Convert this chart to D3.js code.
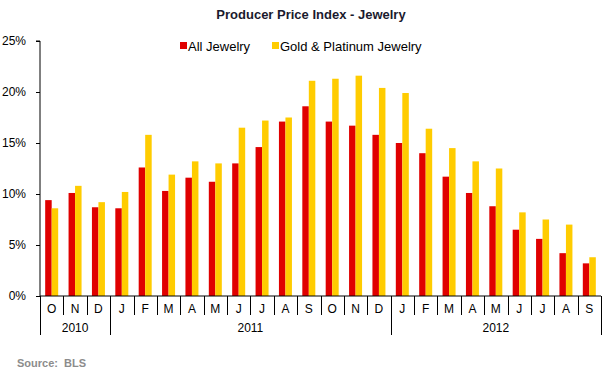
<!DOCTYPE html>
<html>
<head>
<meta charset="utf-8">
<script src="https://d3js.org/d3.v7.min.js"></script>
<style>
  body { margin: 0; background: #fff; }
  svg text { font-family: "Liberation Sans", Arial, sans-serif; }
</style>
</head>
<body>
<div id="chart"></div>
<script>
// months Oct 2010 .. Sep 2012
const months = ["O","N","D","J","F","M","A","M","J","J","A","S","O","N","D","J","F","M","A","M","J","J","A","S"];
const years = [
  { label: "2010", start: 0, end: 3 },
  { label: "2011", start: 3, end: 15 },
  { label: "2012", start: 15, end: 24 }
];
const allJewelry = [9.4, 10.1, 8.7, 8.6, 12.6, 10.3, 11.6, 11.2, 13.0, 14.6, 17.1, 18.6, 17.1, 16.7, 15.8, 15.0, 14.0, 11.7, 10.1, 8.8, 6.5, 5.6, 4.2, 3.2];
const goldPlatinum = [8.6, 10.8, 9.2, 10.2, 15.8, 11.9, 13.2, 13.0, 16.5, 17.2, 17.5, 21.1, 21.3, 21.6, 20.4, 19.9, 16.4, 14.5, 13.2, 12.5, 8.2, 7.5, 7.0, 3.8];
const yTicks = [0, 5, 10, 15, 20, 25];
const seriesNames = ["All Jewelry", "Gold & Platinum Jewelry"];
const colors = ["#E00000", "#FFCC00"];

const width = 609, height = 371;
const plotL = 40, plotR = 601, plotT = 41, plotB = 296;

const svg = d3.select("#chart").append("svg")
  .attr("width", width).attr("height", height);

const x = d3.scaleBand().domain(d3.range(months.length)).range([plotL, plotR]);
const y = d3.scaleLinear().domain([0, 25]).range([plotB, plotT]);
const barW = 6.5;

// title
svg.append("text")
  .attr("x", 311).attr("y", 19)
  .attr("text-anchor", "middle")
  .attr("font-size", 13).attr("font-weight", "bold")
  .attr("fill", "#1a1a2e")
  .text("Producer Price Index - Jewelry");

// bars
[allJewelry, goldPlatinum].forEach((vals, s) => {
  svg.append("g").selectAll("rect")
    .data(vals)
    .enter()
    .append("rect")
    .attr("x", (d, i) => x(i) + x.bandwidth() / 2 - barW + s * barW)
    .attr("y", d => y(d))
    .attr("width", barW)
    .attr("height", d => y(0) - y(d))
    .attr("fill", colors[s]);
});

// y axis
const yAxis = svg.append("g")
  .attr("transform", `translate(${plotL},0)`)
  .call(d3.axisLeft(y).tickValues(yTicks).tickSize(4).tickPadding(10).tickFormat(d => d + "%"));
yAxis.select(".domain").attr("d", `M-4,${plotT}H0V${plotB}`).attr("stroke", "#000");
yAxis.selectAll(".tick line").attr("stroke", "#000");
yAxis.selectAll("text").attr("font-size", 12).attr("fill", "#000")
  .style("font-family", "'Liberation Sans', Arial, sans-serif");

// x axis baseline
svg.append("line")
  .attr("x1", plotL).attr("x2", plotR)
  .attr("y1", plotB).attr("y2", plotB)
  .attr("stroke", "#000");

// month dividers
svg.append("g").selectAll("line")
  .data(d3.range(months.length + 1))
  .enter().append("line")
  .attr("x1", i => Math.round(plotL + i * x.step()) + 0.5)
  .attr("x2", i => Math.round(plotL + i * x.step()) + 0.5)
  .attr("y1", plotB)
  .attr("y2", i => (years.some(yr => yr.start === i) || i === months.length) ? 335 : 315)
  .attr("stroke", "#000");

// month labels
svg.append("g").selectAll("text")
  .data(months)
  .enter().append("text")
  .attr("x", (d, i) => x(i) + x.bandwidth() / 2)
  .attr("y", 313)
  .attr("text-anchor", "middle")
  .attr("font-size", 12)
  .attr("fill", "#000")
  .text(d => d);

// year labels
svg.append("g").selectAll("text")
  .data(years)
  .enter().append("text")
  .attr("x", d => plotL + (d.start + d.end) / 2 * x.step())
  .attr("y", 332)
  .attr("text-anchor", "middle")
  .attr("font-size", 12)
  .attr("fill", "#000")
  .text(d => d.label);

// legend
const legendX = [180, 272];
seriesNames.forEach((name, s) => {
  svg.append("rect")
    .attr("x", legendX[s]).attr("y", 42)
    .attr("width", 7).attr("height", 7)
    .attr("fill", colors[s]);
  svg.append("text")
    .attr("x", legendX[s] + 8).attr("y", 51)
    .attr("font-size", 13)
    .attr("fill", "#000")
    .text(name);
});

// source
svg.append("text")
  .attr("x", 17).attr("y", 367)
  .attr("font-size", 11).attr("font-weight", "bold")
  .attr("fill", "#8c8c8c")
  .attr("xml:space", "preserve")
  .text("Source:  BLS");
</script>
</body>
</html>
